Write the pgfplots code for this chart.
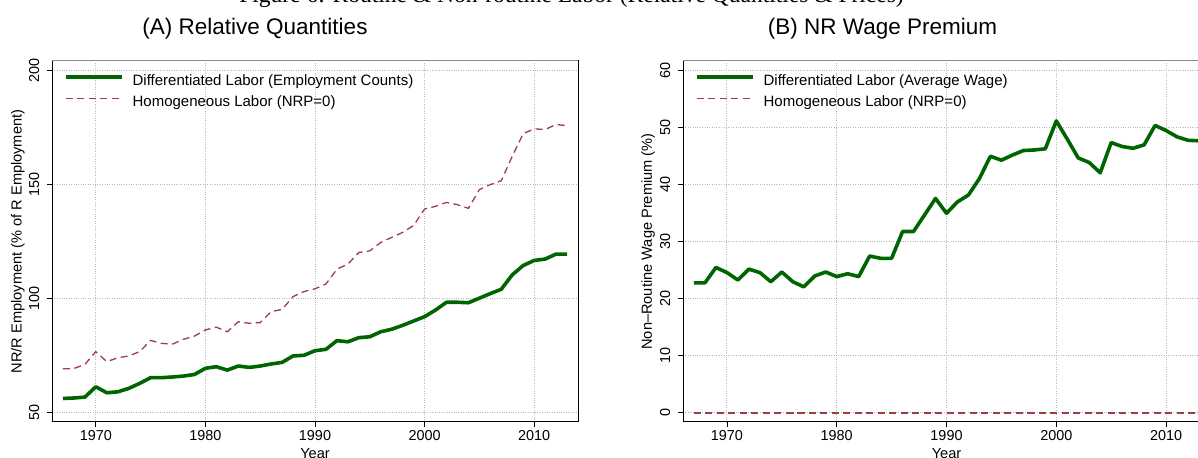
\documentclass[border={-20bp -20bp -42bp -32bp}]{standalone}
\usepackage{pgfplots}
\pgfplotsset{compat=1.18}
\usepackage{pgfplotstable}
\usepackage{fontspec}
\setmainfont{Liberation Sans}
\newfontfamily\capfont{Liberation Serif}

\definecolor{stgreen}{RGB}{0,100,0}
\definecolor{stmaroon}{RGB}{160,60,70}

% Panel A: NR/R employment (% of R employment)
\pgfplotstableread{
year diff homog
1967 56.3 69.3
1968 56.5 69.4
1969 56.9 71.2
1970 61.4 76.8
1971 58.8 72.4
1972 59.2 74.1
1973 60.7 74.9
1974 62.9 76.8
1975 65.4 81.7
1976 65.4 80.4
1977 65.7 80.1
1978 66.1 82.2
1979 66.8 83.6
1980 69.5 86.3
1981 70.2 87.5
1982 68.7 85.5
1983 70.5 89.9
1984 69.9 89.2
1985 70.5 89.5
1986 71.4 94.3
1987 72.1 95.3
1988 74.9 100.9
1989 75.2 103.1
1990 77.2 104.3
1991 77.8 106.4
1992 81.6 112.9
1993 81.1 115.1
1994 82.9 120.2
1995 83.3 120.9
1996 85.5 124.6
1997 86.6 126.8
1998 88.3 129.0
1999 90.2 132.0
2000 92.1 139.2
2001 95.0 140.4
2002 98.4 142.1
2003 98.4 141.1
2004 98.2 139.5
2005 100.2 147.7
2006 102.2 149.9
2007 104.1 151.6
2008 110.4 162.3
2009 114.5 172.2
2010 116.7 174.3
2011 117.3 174.0
2012 119.5 176.2
2013 119.5 175.7
}\quantities

% Panel B: non-routine wage premium (%)
\pgfplotstableread{
year diff homog
1967 22.8 0
1968 22.8 0
1969 25.5 0
1970 24.6 0
1971 23.3 0
1972 25.2 0
1973 24.6 0
1974 23.0 0
1975 24.7 0
1976 23.0 0
1977 22.1 0
1978 24.0 0
1979 24.7 0
1980 23.9 0
1981 24.4 0
1982 23.9 0
1983 27.5 0
1984 27.1 0
1985 27.1 0
1986 31.8 0
1987 31.8 0
1988 34.7 0
1989 37.6 0
1990 35.0 0
1991 37.0 0
1992 38.2 0
1993 41.1 0
1994 45.0 0
1995 44.3 0
1996 45.2 0
1997 46.0 0
1998 46.1 0
1999 46.3 0
2000 51.2 0
2001 48.0 0
2002 44.7 0
2003 43.9 0
2004 42.1 0
2005 47.4 0
2006 46.7 0
2007 46.4 0
2008 47.0 0
2009 50.4 0
2010 49.5 0
2011 48.4 0
2012 47.8 0
2013 47.7 0
}\premium

\newcommand\labelfont{\fontsize{14.6bp}{16bp}\selectfont}

\pgfplotsset{
  panel/.style={
    scale only axis,
    anchor=south west,
    width=526bp, height=361bp,
    xmin=1966, xmax=2014,
    xtick={1970,1980,1990,2000,2010},
    xtick pos=bottom, ytick pos=left,
    tick align=outside,
    major tick length=5bp,
    tick style={black, line width=0.8bp},
    axis line style={black, line width=1bp},
    grid=major,
    major grid style={black!28, dotted, line width=0.9bp},
    tick label style={font=\fontsize{14.4bp}{16bp}\selectfont},
    /pgf/number format/assume math mode=true,
    /pgf/number format/1000 sep={},
    yticklabel style={rotate=90, anchor=south, inner ysep=7.5bp},
    xlabel={Year},
    every axis x label/.style={at={(axis description cs:0.5,0)}, anchor=base,
      yshift=-36.6bp, font=\labelfont},
    legend cell align=left,
    legend style={at={(axis description cs:0,1)}, anchor=north west,
      xshift=12bp, yshift=-12.7bp, draw=none, fill=none,
      inner sep=0pt, outer sep=0pt, row sep=4.8bp, column sep=8bp,
      font=\fontsize{15bp}{17bp}\selectfont,
      nodes={inner sep=1bp, text height=11bp, text depth=3.5bp}},
    legend image code/.code={\draw[##1] (0bp,4.7bp) -- (56bp,4.7bp);},
    after end axis/.code={\draw[black!45, line width=1bp] (rel axis cs:0,1) -- (rel axis cs:1,1);},
  },
  diffline/.style={stgreen, line width=3.6bp, line join=round, mark=none},
  homline/.style={stmaroon, line width=1.3bp, dash pattern=on 7bp off 4.5bp, mark=none},
}

\begin{document}
\begin{tikzpicture}
% fixed frame; the page border trims it to 1198 x 458
\path (-20bp,-20bp) rectangle (1240bp,490bp);

% Overall caption, sitting at the top edge
\node[anchor=base, font=\capfont\fontsize{23.5bp}{25bp}\selectfont]
  at (571.5bp,455.3bp) {Figure 6: Routine \& Non-routine Labor (Relative Quantities \& Prices)};

% Panel titles
\node[anchor=base, font=\fontsize{22.5bp}{24bp}\selectfont] at (255bp,423.7bp) {(A) Relative Quantities};
\node[anchor=base, font=\fontsize{22.5bp}{24bp}\selectfont] at (882.5bp,423.7bp) {(B) NR Wage Premium};

% (A) Relative quantities
\begin{axis}[panel,
  at={(52bp,36bp)},
  ymin=46, ymax=204,
  ytick={50,100,150,200},
  ylabel={NR/R Employment (\% of R Employment)},
  every axis y label/.style={at={(axis description cs:-0.0648,0.5)}, rotate=90,
    anchor=center, font=\labelfont},
]
\addplot[homline, forget plot] table[x=year, y=homog] {\quantities};
\addplot[diffline] table[x=year, y=diff] {\quantities};
\addlegendentry{Differentiated Labor (Employment Counts)}
\addlegendimage{homline}
\addlegendentry{Homogeneous Labor (NRP=0)}
\end{axis}

% (B) NR wage premium
\begin{axis}[panel,
  at={(683bp,36bp)},
  width=527bp,
  ymin=-1.6, ymax=61.7,
  ytick={0,10,...,60},
  ylabel={Non\textendash Routine Wage Premium (\%)},
  every axis y label/.style={at={(axis description cs:-0.0664,0.5)}, rotate=90,
    anchor=center, font=\labelfont},
]
\addplot[diffline] table[x=year, y=diff] {\premium};
\addlegendentry{Differentiated Labor (Average Wage)}
\addplot[homline] table[x=year, y=homog] {\premium};
\addlegendentry{Homogeneous Labor (NRP=0)}
\end{axis}

\end{tikzpicture}
\end{document}
